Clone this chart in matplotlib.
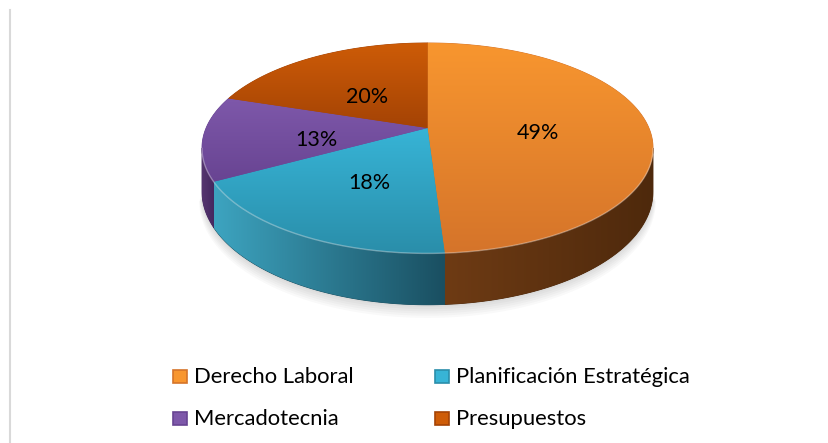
import numpy as np
import matplotlib.pyplot as plt
from matplotlib.patches import Polygon, Rectangle
from matplotlib.colors import to_rgb

plt.rcParams['font.family'] = ['Lato', 'DejaVu Sans']

# data
categories = ['Derecho Laboral', 'Planificación Estratégica', 'Mercadotecnia', 'Presupuestos']
values = [49, 18, 13, 20]
labels = ['49%', '18%', '13%', '20%']

# (light, dark) colours for the top face and the side of each slice
top_colors = [('#F8962F', '#D5742A'), ('#37B4D6', '#2A8EAA'),
              ('#7E58AA', '#684492'), ('#CE5C07', '#A44305')]
side_colors = [('#6E3B14', '#4E290C'), ('#3DA4C0', '#1A4F61'),
               ('#55356F', '#452860'), ('#8A3A08', '#6A2D06')]

# projection of the tilted disc (pixel coordinates)
CX, CY = 427.5, 128.0
A, B, K, H = 221.4, 101.2, 0.19, 42.0


def project(theta, r=1.0, depth=0.0):
    u = r * np.sin(theta)
    v = -r * np.cos(theta)
    s = 1.0 / (1.0 - K * v)
    return CX + A * u * s, CY + (B * v + depth) * s


def grad_fill(ax, verts, c0, c1, horizontal=False, z=1):
    verts = np.asarray(verts)
    base = Polygon(verts, closed=True, facecolor=c1, edgecolor=c1, lw=0.6, zorder=z - 0.01)
    ax.add_patch(base)
    clip = Polygon(verts, closed=True, transform=ax.transData)
    x0, y0 = verts.min(0)
    x1, y1 = verts.max(0)
    t = np.linspace(0, 1, 256)
    a = np.array(to_rgb(c0))
    b = np.array(to_rgb(c1))
    cols = a[None, :] * (1 - t[:, None]) + b[None, :] * t[:, None]
    img = cols[None, :, :] if horizontal else cols[:, None, :]
    im = ax.imshow(img, extent=(x0, x1, y1, y0), origin='upper', aspect='auto',
                   interpolation='bilinear', zorder=z)
    im.set_clip_path(clip)


fig = plt.figure(figsize=(8.29, 4.43), dpi=100)
ax = fig.add_axes([0, 0, 1, 1])

frac = np.array(values, dtype=float) / sum(values)
edges = np.concatenate([[0], np.cumsum(frac)]) * 2 * np.pi
th_r = np.arccos(-K)
th_l = 2 * np.pi - th_r

# soft shadow under the pie
ts = np.linspace(th_r, th_l, 200)
for i in range(6, 0, -1):
    sx, sy = project(ts, 1.0 + 0.002 * i, H + 1.5 * i)
    cx_, cy_ = project(ts[::-1], 0.9, H)
    ax.add_patch(Polygon(np.column_stack([np.r_[sx, cx_], np.r_[sy, cy_]]),
                         facecolor='#000000', alpha=0.025, edgecolor='none', zorder=0.5))

# sides
for i in range(len(values)):
    a0 = max(edges[i], th_r)
    a1 = min(edges[i + 1], th_l)
    if a0 >= a1:
        continue
    ts = np.linspace(a0, a1, 150)
    tx, ty = project(ts, 1.0, 0.0)
    bx, by = project(ts, 1.0, H)
    verts = np.column_stack([np.r_[tx, bx[::-1]], np.r_[ty, by[::-1]]])
    c0, c1 = side_colors[i]
    grad_fill(ax, verts, c0, c1, horizontal=True, z=1)

# top faces
for i in range(len(values)):
    ts = np.linspace(edges[i], edges[i + 1], 200)
    ax_, ay_ = project(ts)
    verts = np.column_stack([np.r_[CX, ax_], np.r_[CY, ay_]])
    c0, c1 = top_colors[i]
    grad_fill(ax, verts, c0, c1, horizontal=False, z=2)

# light rim on the front edge
ts = np.linspace(th_r, th_l, 200)
rx, ry = project(ts)
ax.plot(rx, ry + 0.5, color='white', alpha=0.35, lw=1.0, zorder=3)

# percentage labels
for i, lab in enumerate(labels):
    mid = (edges[i] + edges[i + 1]) / 2
    lx, ly = project(mid, 0.5)
    ax.text(lx, ly + 7, lab, ha='center', va='center', fontsize=15.5, color='black', zorder=5)

# legend
leg_x = [173, 435]
leg_y = [377, 419]
for i, name in enumerate(categories):
    x = leg_x[i % 2]
    y = leg_y[i // 2]
    c0, c1 = top_colors[i]
    ax.add_patch(Rectangle((x, y - 7), 14, 13, facecolor=c0, edgecolor=c1, lw=1.2, zorder=5))
    ax.text(x + 21, y, name, ha='left', va='center', fontsize=15.8, color='black', zorder=5)

# left border line of the chart area
ax.plot([10, 10], [10, 443], color='#D9D9D9', lw=1.5)

ax.set_xlim(0, 829)
ax.set_ylim(443, 0)
ax.axis('off')
fig.savefig('out.png', dpi=100)
